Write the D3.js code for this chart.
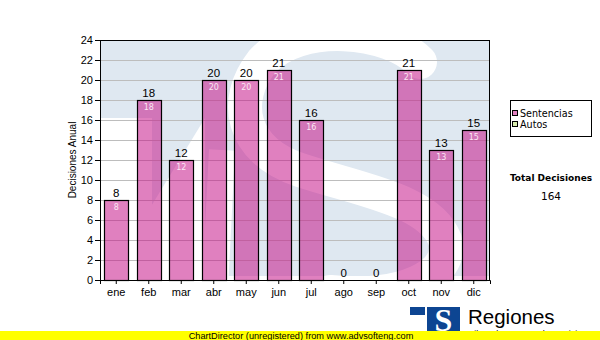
<!DOCTYPE html>
<html><head><meta charset="utf-8">
<script src="https://cdn.jsdelivr.net/npm/d3@7"></script>
<style>body{margin:0;background:#fff}svg{display:block}</style>
</head><body>
<script>
const months = ["ene","feb","mar","abr","may","jun","jul","ago","sep","oct","nov","dic"];
const sentencias = [8,18,12,20,20,21,16,0,0,21,13,15];
const autos = [0,0,0,0,0,0,0,0,0,0,0,0];
const yTicks = [0,2,4,6,8,10,12,14,16,18,20,22,24];
const seriesNames = ["Sentencias","Autos"];
const seriesColors = ["#e07fbf","#d9edae"];
const totalLabel = "Total Decisiones";
const total = d3.sum(sentencias) + d3.sum(autos);

const W=600,H=340, L=100,R=490,T=40,B=280;
const svg=d3.select("body").append("svg").attr("width",W).attr("height",H);
const x=d3.scaleBand().domain(months).range([L,R]).paddingInner(0.26).paddingOuter(0.13);
const y=d3.scaleLinear().domain([0,24]).range([B,T]);

// watermark
const defs=svg.append("defs");
defs.append("clipPath").attr("id","pc").append("rect").attr("x",L).attr("y",T).attr("width",R-L).attr("height",B-T);
const wm=svg.append("g").attr("clip-path","url(#pc)");
const wb="#dfe8f1";
wm.append("rect").attr("x",L).attr("y",T).attr("width",R-L).attr("height",236).attr("fill",wb);
wm.append("rect").attr("x",L).attr("y",118).attr("width",52).attr("height",170).attr("fill","#fff");
wm.append("path").attr("d","M205,118 L205,290 L100,290 Z").attr("fill","#fff");
wm.append("path").attr("fill","none").attr("stroke","#fff").attr("stroke-width",34).attr("stroke-linecap","round")
  .attr("d","M420,62 C390,30 300,20 262,62 C232,100 240,150 300,170 C360,190 430,200 445,240 C455,275 400,300 330,292");
wm.append("path").attr("fill","none").attr("stroke","#fff").attr("stroke-width",26)
  .attr("d","M215,290 L222,150");

// grid
svg.append("g").selectAll("line").data(yTicks.filter(d=>d>0)).join("line")
  .attr("x1",L).attr("x2",R).attr("y1",d=>y(d)+0.5).attr("y2",d=>y(d)+0.5)
  .attr("stroke","#bdbdbd").attr("stroke-width",1);

// bars
const data=months.map((m,i)=>({m,v:sentencias[i]}));
svg.append("g").selectAll("rect").data(data.filter(d=>d.v>0)).join("rect")
  .attr("x",d=>Math.round(x(d.m))+0.5).attr("y",d=>y(d.v)+0.5)
  .attr("width",Math.round(x.bandwidth())).attr("height",d=>y(0)-y(d.v))
  .attr("fill","rgb(196,16,134)").attr("fill-opacity",0.53)
  .attr("stroke","#000").attr("stroke-width",1.2);

// plot frame
svg.append("rect").attr("x",L+0.5).attr("y",T+0.5).attr("width",R-L-1).attr("height",B-T)
  .attr("fill","none").attr("stroke","#000").attr("stroke-width",1);

// axes
const ya=svg.append("g").attr("transform",`translate(${L},0)`)
  .call(d3.axisLeft(y).tickValues(yTicks).tickSize(5).tickPadding(2));
const xa=svg.append("g").attr("transform",`translate(0,${B})`)
  .call(d3.axisBottom(x).tickSize(4).tickPadding(4));
[ya,xa].forEach(a=>{a.select(".domain").attr("stroke","#000");
  a.selectAll(".tick line").attr("stroke","#000");
  a.selectAll("text").attr("font-family","Liberation Sans, Arial, sans-serif").attr("font-size",11).attr("fill","#000");});

svg.append("text").attr("transform","translate(76,160) rotate(-90)").attr("text-anchor","middle")
  .attr("font-family","Liberation Sans, Arial, sans-serif").attr("font-size",10).text("Decisiones Anual");

// value labels
svg.append("g").selectAll("text").data(data).join("text")
  .attr("x",d=>x(d.m)+x.bandwidth()/2).attr("y",d=>y(d.v)-3).attr("text-anchor","middle")
  .attr("font-family","Liberation Sans, Arial, sans-serif").attr("font-size",11.5).attr("fill","#000").text(d=>d.v);
svg.append("g").selectAll("text").data(data.filter(d=>d.v>0)).join("text")
  .attr("x",d=>x(d.m)+x.bandwidth()/2).attr("y",d=>y(d.v)+10).attr("text-anchor","middle")
  .attr("font-family","DejaVu Sans, Verdana, sans-serif").attr("font-size",8).attr("fill","#fbe6f3").text(d=>d.v);

// legend
const lg=svg.append("g");
lg.append("rect").attr("x",510.5).attr("y",100.5).attr("width",81).attr("height",36).attr("fill","#fff").attr("stroke","#000");
seriesNames.forEach((n,i)=>{
  lg.append("rect").attr("x",512.5).attr("y",110.5+i*11).attr("width",5).attr("height",5).attr("fill",seriesColors[i]).attr("stroke","#000");
  lg.append("text").attr("x",520).attr("y",117+i*11).attr("font-family","DejaVu Sans, Verdana, sans-serif").attr("font-size",9.6).text(n);
});
svg.append("text").attr("x",551).attr("y",181).attr("text-anchor","middle").attr("font-family","DejaVu Sans, Verdana, sans-serif")
  .attr("font-weight","bold").attr("font-size",9).text(totalLabel);
svg.append("text").attr("x",551).attr("y",200).attr("text-anchor","middle").attr("font-family","DejaVu Sans, Verdana, sans-serif")
  .attr("font-size",10.5).text(total);

// logo
const lgo=svg.append("g");
lgo.append("rect").attr("x",410).attr("y",307).attr("width",15).attr("height",8).attr("fill","#0d4592");
lgo.append("rect").attr("x",427).attr("y",307).attr("width",33).attr("height",26).attr("fill","#0d4592");
lgo.append("text").attr("x",443.5).attr("y",331).attr("text-anchor","middle").attr("font-family","Liberation Serif, serif")
  .attr("font-weight","bold").attr("font-size",32).attr("fill","#fff").text("S");
lgo.append("text").attr("x",468).attr("y",324).attr("font-family","Liberation Sans, Arial, sans-serif").attr("font-size",20.5).text("Regiones");
lgo.append("text").attr("x",466).attr("y",337).attr("font-family","Liberation Sans, Arial, sans-serif").attr("font-size",9).text("Tribunal Supremo de Justicia");

// footer
svg.append("rect").attr("x",0).attr("y",331).attr("width",W).attr("height",9).attr("fill","#ffff00");
svg.append("text").attr("x",301).attr("y",339).attr("text-anchor","middle").attr("font-family","Liberation Sans, Arial, sans-serif")
  .attr("font-size",9.2).text("ChartDirector (unregistered) from www.advsofteng.com");
</script>
</body></html>
